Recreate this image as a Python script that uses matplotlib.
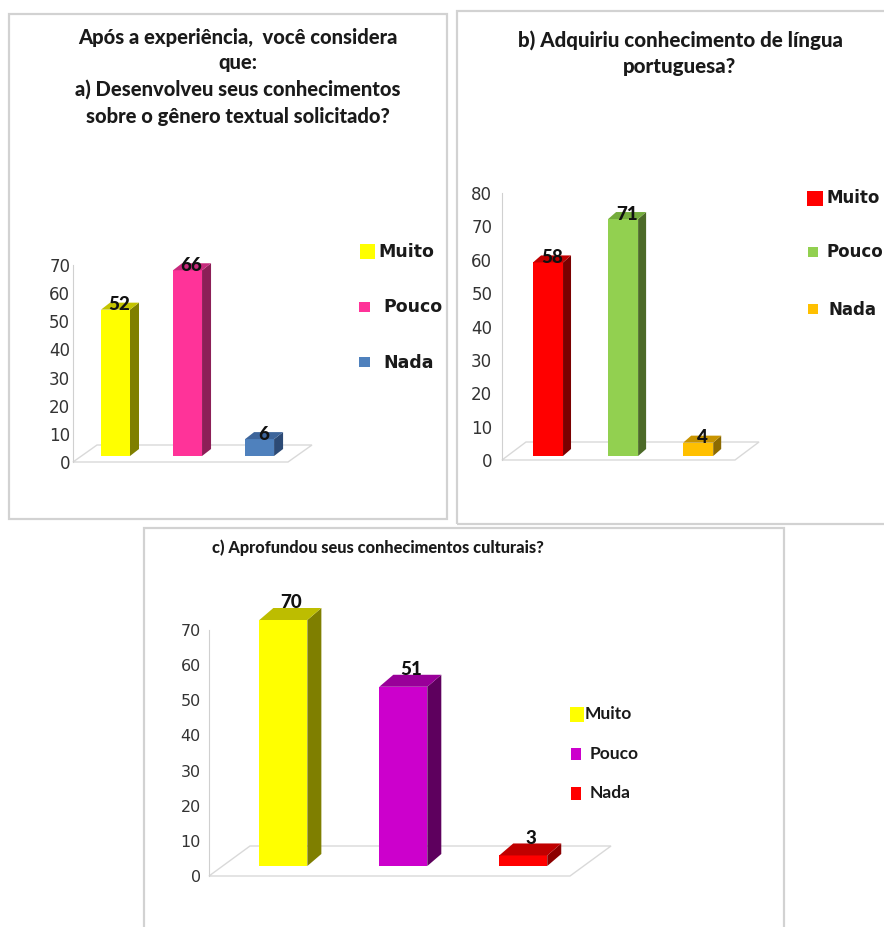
import matplotlib.pyplot as plt
from matplotlib.patches import Rectangle, Polygon

W, H = 884, 927
fig = plt.figure(figsize=(W / 100, H / 100), dpi=100)

categorias = ['Muito', 'Pouco', 'Nada']

titulo_a = ['Após a experiência,  você considera', 'que:',
            'a) Desenvolveu seus conhecimentos', 'sobre o gênero textual solicitado?']
valores_a = [52, 66, 6]
ticks_a = [0, 10, 20, 30, 40, 50, 60, 70]
frente_a = ['#FFFF00', '#FF3399', '#4F81BD']
lado_a = ['#7F7F00', '#8C1F57', '#2C4A75']
topo_a = ['#C4C400', '#C72A7C', '#3D659B']

titulo_b = ['b) Adquiriu conhecimento de língua', 'portuguesa?']
valores_b = [58, 71, 4]
ticks_b = [0, 10, 20, 30, 40, 50, 60, 70, 80]
frente_b = ['#FF0000', '#92D050', '#FFC000']
lado_b = ['#7A0000', '#4C6A28', '#8C6A00']
topo_b = ['#C00000', '#74AC3C', '#C89400']

titulo_c = ['c) Aprofundou seus conhecimentos culturais?']
valores_c = [70, 51, 3]
ticks_c = [0, 10, 20, 30, 40, 50, 60, 70]
frente_c = ['#FFFF00', '#CC00CC', '#FF0000']
lado_c = ['#7F7F00', '#5E005E', '#8C0000']
topo_c = ['#BDBD00', '#990099', '#C00000']


def fx(x):
    return x / W


def fy(y):
    return 1 - y / H


def caixa(x0, y0, x1, y1):
    fig.patches.append(Rectangle((fx(x0), fy(y1)), fx(x1 - x0), (y1 - y0) / H,
                                 transform=fig.transFigure, fill=False,
                                 edgecolor='#D2D2D2', lw=1.6))


def painel(ax_px, xlim, ylim, ticks, valores, frente, lado, topo, g, tick_font, tick_size, pad,
           lab_font, lab_size):
    x0, y0, x1, y1 = ax_px
    ax = fig.add_axes([fx(x0), fy(y1), fx(x1 - x0), (y1 - y0) / H])
    ax.set_xlim(xlim)
    ax.set_ylim(ylim)
    ux = (xlim[1] - xlim[0]) / (x1 - x0)
    uy = (ylim[1] - ylim[0]) / (y1 - y0)
    for s in ['top', 'right', 'bottom']:
        ax.spines[s].set_visible(False)
    ax.spines['left'].set_color('#D0D0D0')
    ax.set_xticks([])
    ax.set_yticks(ticks)
    ax.tick_params(axis='y', length=0, pad=pad, labelsize=tick_size, labelcolor='#333333')
    for t in ax.get_yticklabels():
        t.set_fontfamily(tick_font)
    ax.patch.set_alpha(0)

    # piso
    fdx, fdy = g['fdx'] * ux, g['fdy'] * uy
    xr = xlim[0] + g['flen'] * ux
    ax.add_patch(Polygon([(xlim[0], 0), (xr, 0), (xr + fdx, fdy), (xlim[0] + fdx, fdy)],
                         closed=True, fill=False, edgecolor='#D9D9D9', lw=1, clip_on=False, zorder=1))

    pos = list(range(len(valores)))
    w = g['w'] * ux
    dx, dy = g['dx'] * ux, g['dy'] * uy
    b = g['base'] * uy
    ax.bar(pos, valores, width=w, bottom=b, color=frente, clip_on=False, zorder=3)
    for i, v in enumerate(valores):
        xr_ = i + w / 2
        xl_ = i - w / 2
        ax.add_patch(Polygon([(xr_, b), (xr_ + dx, b + dy), (xr_ + dx, b + v + dy), (xr_, b + v)],
                             closed=True, color=lado[i], clip_on=False, zorder=3, lw=0))
        ax.add_patch(Polygon([(xl_, b + v), (xr_, b + v), (xr_ + dx, b + v + dy), (xl_ + dx, b + v + dy)],
                             closed=True, color=topo[i], clip_on=False, zorder=3, lw=0))
        ax.text(i + g['lx'] * ux, b + v + g['ly'] * uy, str(v), ha='center', va='center',
                fontsize=lab_size, fontweight='black', family=lab_font, color='#111111',
                zorder=5, clip_on=False)
    return ax


def legenda(itens, cores, font, size):
    for (sq, tx, ty), nome, cor in zip(itens, categorias, cores):
        a, b_, c, d = sq
        fig.patches.append(Rectangle((fx(a), fy(d)), fx(c - a), (d - b_) / H,
                                     transform=fig.transFigure, color=cor, lw=0))
        fig.text(fx(tx), fy(ty), nome, ha='left', va='center', fontsize=size,
                 fontweight='bold', family=font, color='#1A1A1A')


# ---- painel a
caixa(9, 14, 447, 519)
for t, y in zip(titulo_a, [37, 63, 89, 116]):
    fig.text(fx(238), fy(y), t, ha='center', va='center', fontsize=14.5, fontweight='black',
             family='Lato', color='#1A1A1A')
painel((73, 265, 310, 462), (-0.59, 2.70), (0, 70), ticks_a, valores_a, frente_a, lado_a, topo_a,
       dict(w=29, dx=9, dy=7, base=6, fdx=24, fdy=17, flen=215, lx=4, ly=5),
       'DejaVu Sans', 12, 2, 'Lato', 13.5)
legenda([((360, 244, 375, 259), 378, 252), ((359, 302, 370, 312), 383, 307),
         ((359, 357, 370, 367), 383, 363)], frente_a, 'DejaVu Sans', 12.5)

# ---- painel b
caixa(457, 11, 890, 524)
for t, y in zip(titulo_b, [40, 67]):
    fig.text(fx(680), fy(y), t, ha='center', va='center', fontsize=14.8, fontweight='black',
             family='Lato', color='#1A1A1A')
painel((502, 193, 753, 460), (-0.613, 2.73), (0, 80), ticks_b, valores_b, frente_b, lado_b, topo_b,
       dict(w=30, dx=8, dy=7, base=4, fdx=24, fdy=18, flen=233, lx=4, ly=5),
       'DejaVu Sans', 12, 7, 'Lato', 13.5)
legenda([((807, 191, 823, 206), 826, 198), ((808, 247, 818, 257), 827, 252),
         ((808, 304, 818, 314), 829, 310)], frente_b, 'DejaVu Sans', 12)

# ---- painel c
caixa(144, 528, 784, 935)
fig.text(fx(378), fy(548), titulo_c[0], ha='center', va='center', fontsize=11.8, fontweight='black',
         family='Lato', color='#1A1A1A')
painel((209, 630, 612, 876), (-0.62, 2.74), (0, 70), ticks_c, valores_c, frente_c, lado_c, topo_c,
       dict(w=48, dx=14, dy=12, base=10, fdx=41, fdy=30, flen=361, lx=8, ly=17),
       'DejaVu Sans', 11.5, 6, 'Lato', 13.5)
legenda([((570, 707, 584, 722), 585, 714), ((571, 748, 581, 760), 590, 754),
         ((571, 787, 581, 800), 590, 793)], frente_c, 'Lato', 12.5)

fig.savefig('out.png', dpi=100, facecolor='white')
